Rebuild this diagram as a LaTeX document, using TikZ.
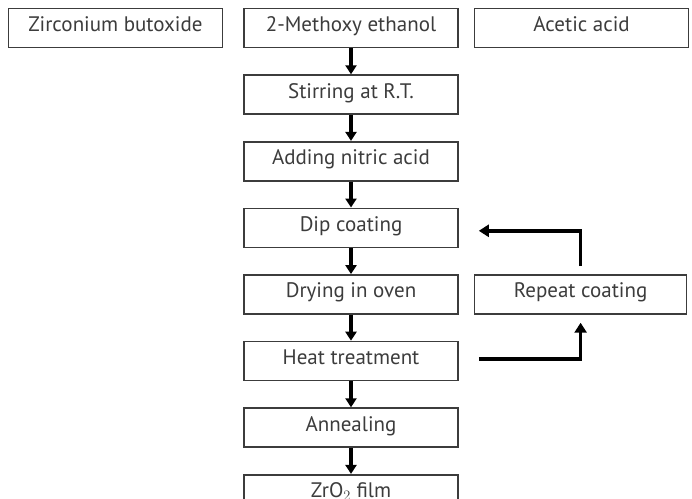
\documentclass[tikz,border=0pt]{standalone}
\usepackage{fontspec}
\setmainfont{PT Sans}
\definecolor{ink}{RGB}{60,60,60}
\usetikzlibrary{positioning, arrows.meta}

\begin{document}
\begin{tikzpicture}[
  x=1pt, y=1pt,
  node distance=26pt and 18pt,
  box/.style={draw=ink, line width=1.6pt, fill=white,
              minimum width=214pt, minimum height=39pt, inner sep=0pt,
              text height=0.7em, text depth=0pt,
              font=\fontsize{21}{24}\selectfont, text=ink},
  arr/.style={-{Triangle[length=9pt, width=11pt]}, line width=3.2pt, color=black},
  looparr/.style={-{Triangle[length=10pt, width=12pt]}, line width=3.6pt, color=black},
]
  \useasboundingbox (0,0) rectangle (692,-498);

  % Top row: starting materials
  \node[box] (methoxy) at (351,-28) {2-Methoxy ethanol};
  \node[box, left=20pt of methoxy] (zirconium) {Zirconium butoxide};
  \node[box, right=15pt of methoxy] (acetic) {Acetic acid};

  % Process column
  \node[box, below=of methoxy] (stirring) {Stirring at R.T.};
  \node[box, below=of stirring] (nitric) {Adding nitric acid};
  \node[box, below=of nitric] (dip) {Dip coating};
  \node[box, below=of dip] (drying) {Drying in oven};
  \node[box, below=of drying] (heat) {Heat treatment};
  \node[box, below=of heat] (annealing) {Annealing};
  \node[box, below=of annealing] (film) {ZrO$_2$ film};

  % Repeat loop
  \node[box, right=15pt of drying, minimum width=212pt] (repeat) {Repeat coating};

  % Arrows
  \draw[arr] (methoxy) -- (stirring);
  \draw[arr] (stirring) -- (nitric);
  \draw[arr] (nitric) -- (dip);
  \draw[arr] (dip) -- (drying);
  \draw[arr] (drying) -- (heat);
  \draw[arr] (heat) -- (annealing);
  \draw[arr] (annealing) -- (film);
  \draw[looparr] ([xshift=20pt, yshift=2pt]heat.east) -| ([yshift=-8pt]repeat.south);
  \draw[looparr] ([yshift=8pt]repeat.north) |- ([xshift=20pt, yshift=-3pt]dip.east);
\end{tikzpicture}
\end{document}
